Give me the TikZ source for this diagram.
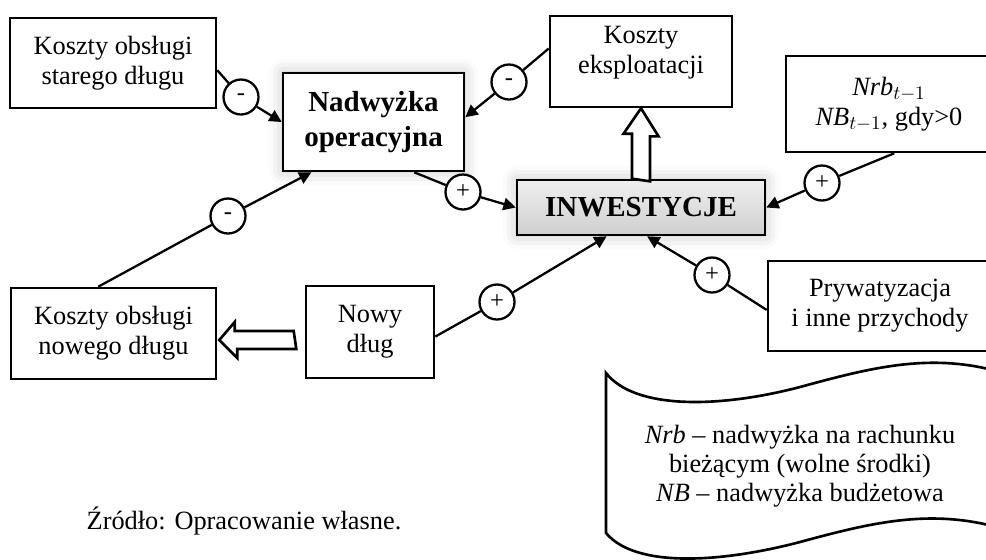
\documentclass[tikz,border=0pt]{standalone}
\usepackage{fontspec}
\setmainfont{Liberation Serif}
\usetikzlibrary{positioning, arrows.meta, calc, shadows.blur}

\begin{document}
\begin{tikzpicture}[
            x=0.02cm, y=-0.02cm,
            box/.style={
                    draw,
                    line width=1.5pt,
                    align=center,
                    inner sep=2pt,
                    font=\fontsize{15}{17}\selectfont
                },
            mainbox/.style={
                    box,
                    fill=white,
                    font=\fontsize{16.5}{20}\selectfont\bfseries,
                    blur shadow={shadow xshift=0pt, shadow yshift=0pt,
                            shadow blur radius=8pt, shadow opacity=25}
                },
            sign/.style={
                    circle,
                    draw,
                    line width=1.3pt,
                    fill=white,
                    minimum size=0.7cm,
                    inner sep=0pt,
                    font=\fontsize{14}{14}\selectfont
                },
            link/.style={
                    line width=1.3pt
                },
            arrow/.style={
                    link,
                    -{Triangle[length=7pt, width=7pt]}
                },
            hollow/.style={
                    draw,
                    line width=1.5pt,
                    fill=white,
                    line join=miter
                }
        ]

        \useasboundingbox (0,0) rectangle (986,559);

        % boxes
        \node[box, minimum width=4.12cm, minimum height=1.8cm]
        (olddebt) at (113,63)
        {Koszty obsługi\\starego długu};

        \node[mainbox, minimum width=3.62cm, minimum height=1.96cm]
        (surplus) at (373.5,122)
        {Nadwyżka\\operacyjna};

        \node[box, minimum width=3.64cm, minimum height=1.82cm, text depth=13pt]
        (running) at (641,61.5)
        {Koszty\\eksploatacji};

        \node[box, minimum width=4.12cm, minimum height=1.92cm]
        (previous) at (889,104)
        {{\itshape Nrb}$_{t-1}$\\{\itshape NB}$_{t-1}$, gdy>0};

        \node[mainbox, minimum width=4.96cm, minimum height=1.1cm,
            top color=gray!12, bottom color=gray!38]
        (invest) at (641,207.5)
        {INWESTYCJE};

        \node[box, minimum width=4.1cm, minimum height=1.82cm]
        (newcost) at (113.5,333.5)
        {Koszty obsługi\\nowego długu};

        \node[box, minimum width=2.56cm, minimum height=1.84cm]
        (newdebt) at (370,332)
        {Nowy\\dług};

        \node[box, minimum width=4.48cm, minimum height=1.8cm]
        (private) at (880,306)
        {Prywatyzacja\\i inne przychody};

        % signs
        \node[sign] (m1) at (241,97) {-};
        \node[sign] (m2) at (509,82) {-};
        \node[sign] (m3) at (228,216) {-};
        \node[sign] (p1) at (463,192) {+};
        \node[sign] (p2) at (822,183) {+};
        \node[sign] (p3) at (497,302) {+};
        \node[sign] (p4) at (712,275) {+};

        % links
        \draw[link](olddebt.-4)--(m1);
        \draw[arrow](m1)--(surplus.west);
        \draw[link](running.172)--(m2);
        \draw[arrow](m2)--(surplus.3);
        \draw[link](newcost.108)--(m3);
        \draw[arrow](m3)--(surplus.219);
        \draw[link](surplus.-51)--(p1);
        \draw[arrow](p1)--(invest.west);
        \draw[link](previous.-84)--(p2);
        \draw[arrow](p2)--(invest.east);
        \draw[link](newdebt.-4)--(p3);
        \draw[arrow](p3)--(invest.220);
        \draw[link](private.182)--(p4);
        \draw[arrow](p4)--(invest.-78);

        % block arrows
        \draw[hollow]($(invest.north)+(-9,0)$)--++(0,-45)--++(-8.5,0)
        --(running.south)--++(17.5,28)--++(-8.5,0)--++(0,45)--cycle;
        \draw[hollow]($(newdebt.west)+(-11,-1)$)--++(-59,0)--++(0,-9)
        --($(newcost.east)+(2,6.5)$)--++(18,18)--++(0,-9)--++(59,0)--cycle;

        % legend
        \draw[line width=1.5pt](606,373)..controls(635,410)and(720,408)..(800,387)
        ..controls(870,368)and(930,352)..(1000,372)--(1000,528)
        ..controls(930,508)and(870,523)..(800,542)
        ..controls(720,563)and(635,568)..(606,533)--cycle;

        \node[align=center, font=\fontsize{15}{16.5}\selectfont]
        (legend) at (800,466)
        {{\itshape Nrb} -- nadwyżka na rachunku\\bieżącym (wolne środki)\\{\itshape NB} -- nadwyżka budżetowa};

        \node[font=\fontsize{15}{17}\selectfont]
        (source) at (244,521)
        {Źródło: Opracowanie własne.};

    \end{tikzpicture}
\end{document}
